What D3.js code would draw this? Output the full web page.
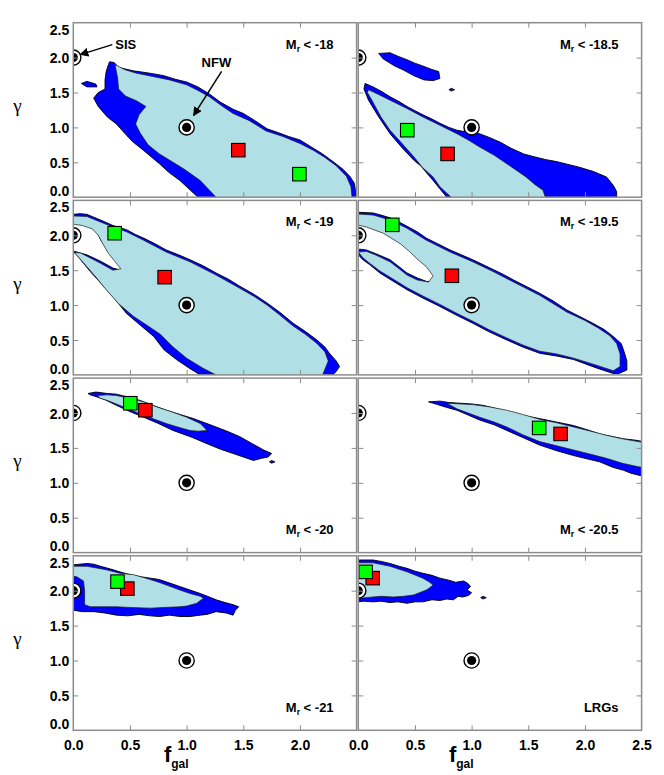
<!DOCTYPE html>
<html><head><meta charset="utf-8">
<script src="https://cdn.jsdelivr.net/npm/d3@7"></script>
<style>body{margin:0;background:#fff}</style>
</head><body>
<script>
// ---------------- DATA ----------------
const panelLabels = ["-18", "-18.5", "-19", "-19.5", "-20", "-20.5", "-21", "LRGs"];
const labelAtTop = [true, true, true, true, false, false, false, false];
const xTickValues = [0, 0.5, 1, 1.5, 2, 2.5];
const yTickValues = [0, 0.5, 1, 1.5, 2, 2.5];
const innerTickValues = [0.5, 1, 1.5, 2];
const refPoints = [{name: "SIS", f: 0, g: 2}, {name: "NFW", f: 1, g: 1}];
// best fits (f_gal, gamma) per panel
const redFit = [[1.456, 0.674], [0.788, 0.62], [0.806, 1.40], [0.826, 1.42], [0.636, 2.04], [1.785, 1.70], [0.477, 2.03], [0.127, 2.18]];
const greenFit = [[1.995, 0.33], [0.432, 0.96], [0.365, 2.03], [0.30, 2.15], [0.503, 2.14], [1.596, 1.786], [0.39, 2.13], [0.065, 2.27]];

// outer (2-sigma, blue) contours per panel, [f_gal, gamma]
const outerContours = [
  [[0.32,1.94],[0.36,1.93],[0.40,1.86],[0.45,1.84],[0.53,1.81],[0.62,1.79],[0.70,1.77],[0.80,1.74],[0.90,1.69],[1.00,1.65],[1.10,1.58],[1.20,1.48],[1.30,1.36],[1.41,1.26],[1.50,1.20],[1.60,1.10],[1.71,0.98],[1.80,0.93],[1.90,0.87],[2.00,0.82],[2.10,0.72],[2.20,0.62],[2.30,0.50],[2.38,0.40],[2.44,0.30],[2.48,0.20],[2.49,0.10],[2.50,0.0],[2.5,-0.1],[1.10,-0.1],[1.10,0],[0.94,0.24],[0.84,0.36],[0.76,0.48],[0.62,0.67],[0.52,0.80],[0.44,0.94],[0.38,1.05],[0.30,1.15],[0.22,1.30],[0.18,1.42],[0.22,1.50],[0.28,1.55],[0.28,1.68],[0.29,1.80],[0.31,1.90]],
  [[0.06,1.63],[0.13,1.58],[0.20,1.52],[0.28,1.44],[0.36,1.37],[0.43,1.30],[0.50,1.24],[0.57,1.18],[0.65,1.12],[0.72,1.06],[0.80,1.00],[0.87,0.96],[0.97,0.93],[1.07,0.91],[1.15,0.86],[1.25,0.79],[1.35,0.70],[1.46,0.62],[1.55,0.58],[1.65,0.54],[1.75,0.51],[1.85,0.47],[1.95,0.43],[2.07,0.37],[2.19,0.29],[2.25,0.17],[2.28,0.08],[2.28,0],[2.28,-0.1],[0.78,-0.1],[0.78,0],[0.66,0.24],[0.55,0.45],[0.49,0.53],[0.38,0.72],[0.28,0.91],[0.18,1.15],[0.09,1.39],[0.05,1.55]],
  [[-0.05,2.30],[0,2.30],[0.06,2.31],[0.12,2.30],[0.18,2.26],[0.24,2.22],[0.35,2.14],[0.47,2.08],[0.55,2.01],[0.62,1.96],[0.72,1.88],[0.82,1.79],[0.93,1.72],[1.03,1.65],[1.15,1.56],[1.26,1.46],[1.37,1.37],[1.47,1.27],[1.60,1.15],[1.71,1.03],[1.82,0.90],[1.94,0.74],[2.05,0.62],[2.15,0.50],[2.22,0.40],[2.26,0.31],[2.32,0.20],[2.35,0.12],[2.32,0.05],[2.29,0],[2.29,-0.1],[1.12,-0.1],[1.12,0],[1.02,0.10],[0.91,0.22],[0.80,0.36],[0.71,0.55],[0.60,0.70],[0.47,0.88],[0.36,1.10],[0.24,1.32],[0.15,1.48],[0.09,1.60],[0.03,1.72],[0,1.77],[0.01,1.77],[0.12,1.72],[0.24,1.63],[0.35,1.53],[0.49,1.47],[0.41,1.58],[0.35,1.70],[0.29,1.82],[0.24,1.94],[0.21,2.06],[0.15,2.13],[0.06,2.17],[0,2.18],[-0.05,2.18]],
  [[-0.05,2.33],[0,2.33],[0.13,2.32],[0.20,2.29],[0.28,2.25],[0.36,2.19],[0.43,2.13],[0.52,2.05],[0.60,1.96],[0.70,1.88],[0.81,1.79],[0.91,1.72],[1.01,1.65],[1.10,1.58],[1.19,1.51],[1.28,1.44],[1.37,1.36],[1.48,1.27],[1.60,1.17],[1.72,1.06],[1.84,0.93],[1.95,0.84],[2.07,0.74],[2.17,0.65],[2.25,0.55],[2.32,0.45],[2.34,0.36],[2.37,0.20],[2.37,0.07],[2.30,0.02],[2.25,0.02],[2.10,0.10],[1.90,0.22],[1.75,0.27],[1.60,0.31],[1.45,0.40],[1.31,0.50],[1.15,0.62],[1.01,0.74],[0.86,0.86],[0.72,0.98],[0.57,1.10],[0.43,1.22],[0.30,1.35],[0.19,1.46],[0.10,1.58],[0.04,1.65],[0,1.72],[-0.05,1.80],[0.02,1.80],[0.07,1.79],[0.15,1.74],[0.28,1.65],[0.36,1.55],[0.43,1.46],[0.52,1.39],[0.60,1.34],[0.72,1.32],[0.72,1.51],[0.60,1.58],[0.49,1.77],[0.37,1.91],[0.22,2.06],[0.07,2.15],[0,2.18],[-0.05,2.18]],
  [[0.13,2.28],[0.20,2.30],[0.30,2.28],[0.38,2.27],[0.48,2.23],[0.59,2.18],[0.70,2.11],[0.82,2.04],[0.94,1.98],[1.06,1.92],[1.16,1.86],[1.26,1.80],[1.37,1.73],[1.47,1.66],[1.58,1.56],[1.68,1.47],[1.75,1.42],[1.72,1.37],[1.66,1.35],[1.59,1.32],[1.50,1.37],[1.41,1.42],[1.30,1.48],[1.18,1.56],[1.05,1.65],[0.88,1.75],[0.75,1.85],[0.62,1.94],[0.50,2.02],[0.38,2.11],[0.28,2.19],[0.21,2.23],[0.15,2.26]],
  [[0.62,2.16],[0.72,2.17],[0.80,2.15],[0.90,2.14],[1.00,2.13],[1.10,2.11],[1.25,2.05],[1.37,1.99],[1.50,1.95],[1.60,1.92],[1.75,1.87],[1.90,1.82],[2.02,1.76],[2.13,1.70],[2.25,1.66],[2.34,1.63],[2.45,1.61],[2.55,1.58],[2.55,1.08],[2.47,1.11],[2.40,1.14],[2.34,1.18],[2.25,1.22],[2.13,1.30],[2.00,1.35],[1.90,1.39],[1.75,1.46],[1.60,1.54],[1.45,1.65],[1.31,1.75],[1.20,1.83],[1.07,1.90],[0.97,1.97],[0.87,2.04],[0.78,2.08],[0.70,2.12]],
  [[-0.05,2.37],[0,2.37],[0.12,2.39],[0.18,2.38],[0.24,2.35],[0.33,2.31],[0.41,2.27],[0.50,2.23],[0.59,2.20],[0.68,2.18],[0.76,2.16],[0.85,2.11],[0.94,2.06],[1.03,2.01],[1.12,1.96],[1.20,1.91],[1.26,1.87],[1.34,1.83],[1.41,1.80],[1.46,1.77],[1.43,1.72],[1.41,1.65],[1.35,1.68],[1.26,1.70],[1.18,1.66],[1.12,1.65],[1.03,1.63],[0.94,1.63],[0.85,1.65],[0.76,1.63],[0.68,1.64],[0.58,1.66],[0.48,1.64],[0.38,1.65],[0.28,1.68],[0.18,1.70],[0.08,1.70],[0,1.72],[-0.05,1.72]],
  [[-0.05,2.44],[0,2.44],[0.13,2.44],[0.20,2.42],[0.28,2.39],[0.36,2.35],[0.43,2.32],[0.50,2.28],[0.57,2.25],[0.65,2.22],[0.72,2.18],[0.80,2.15],[0.86,2.12],[0.93,2.14],[0.97,2.10],[0.99,2.06],[0.96,2.01],[1.00,1.97],[0.97,1.93],[0.92,1.91],[0.88,1.92],[0.84,1.87],[0.78,1.88],[0.72,1.86],[0.65,1.87],[0.57,1.84],[0.50,1.84],[0.43,1.82],[0.35,1.84],[0.28,1.83],[0.20,1.85],[0.13,1.84],[0.05,1.85],[0,1.84],[-0.05,1.84]]
];

// inner (1-sigma, light blue) contours per panel
const innerContours = [
  [[0.37,1.90],[0.45,1.83],[0.55,1.78],[0.70,1.73],[0.85,1.68],[1.00,1.61],[1.10,1.53],[1.20,1.44],[1.30,1.32],[1.41,1.20],[1.55,1.10],[1.70,0.95],[1.85,0.87],[2.00,0.77],[2.12,0.67],[2.22,0.57],[2.32,0.45],[2.41,0.30],[2.45,0.15],[2.46,0.0],[2.46,-0.1],[1.26,-0.1],[1.26,0],[1.12,0.24],[0.98,0.40],[0.88,0.50],[0.76,0.62],[0.66,0.75],[0.59,0.92],[0.55,1.05],[0.58,1.18],[0.64,1.30],[0.56,1.38],[0.46,1.45],[0.40,1.55],[0.39,1.72],[0.37,1.88]],
  [[0.09,1.54],[0.18,1.47],[0.28,1.39],[0.43,1.27],[0.57,1.15],[0.72,1.03],[0.87,0.91],[0.97,0.82],[1.07,0.72],[1.20,0.60],[1.31,0.48],[1.40,0.38],[1.48,0.29],[1.56,0.18],[1.63,0.10],[1.65,0],[1.65,-0.1],[0.82,-0.1],[0.82,0],[0.72,0.15],[0.66,0.29],[0.57,0.42],[0.49,0.58],[0.38,0.78],[0.28,0.96],[0.20,1.15],[0.12,1.39],[0.08,1.50]],
  [[-0.05,2.28],[0.12,2.27],[0.24,2.19],[0.35,2.12],[0.47,2.05],[0.62,1.93],[0.82,1.76],[1.03,1.62],[1.26,1.43],[1.47,1.24],[1.60,1.12],[1.71,1.00],[1.82,0.86],[1.94,0.70],[2.05,0.58],[2.15,0.45],[2.22,0.33],[2.25,0.20],[2.22,0.08],[2.20,0],[2.20,-0.1],[1.26,-0.1],[1.26,0],[1.14,0.10],[1.00,0.24],[0.88,0.40],[0.77,0.58],[0.66,0.70],[0.53,0.84],[0.40,1.02],[0.29,1.22],[0.20,1.40],[0.12,1.55],[0.05,1.68],[0.01,1.75],[0.06,1.75],[0.12,1.70],[0.24,1.60],[0.35,1.50],[0.42,1.52],[0.37,1.62],[0.31,1.74],[0.26,1.88],[0.22,2.00],[0.17,2.09],[0.08,2.14],[0,2.16],[-0.05,2.16]],
  [[-0.05,2.31],[0.13,2.29],[0.28,2.22],[0.43,2.10],[0.60,1.93],[0.81,1.76],[1.01,1.62],[1.19,1.48],[1.37,1.33],[1.60,1.14],[1.84,0.90],[2.00,0.78],[2.12,0.67],[2.22,0.56],[2.28,0.45],[2.31,0.30],[2.31,0.12],[2.25,0.06],[2.10,0.14],[1.90,0.24],[1.75,0.30],[1.60,0.34],[1.45,0.43],[1.31,0.53],[1.15,0.65],[1.01,0.77],[0.86,0.89],[0.72,1.01],[0.57,1.13],[0.43,1.25],[0.30,1.38],[0.19,1.49],[0.10,1.60],[0.04,1.68],[0,1.76],[0.07,1.77],[0.15,1.72],[0.28,1.62],[0.36,1.52],[0.43,1.43],[0.52,1.36],[0.62,1.33],[0.66,1.42],[0.60,1.55],[0.52,1.66],[0.45,1.77],[0.37,1.88],[0.22,2.03],[0.07,2.12],[-0.05,2.16]],
  [[0.21,2.25],[0.30,2.26],[0.38,2.25],[0.50,2.21],[0.62,2.16],[0.75,2.08],[0.88,2.01],[1.00,1.94],[1.12,1.85],[1.18,1.75],[1.10,1.74],[1.03,1.75],[0.92,1.80],[0.82,1.85],[0.70,1.92],[0.59,1.99],[0.48,2.06],[0.38,2.13],[0.30,2.18],[0.24,2.21]],
  [[0.78,2.14],[0.90,2.13],[1.01,2.12],[1.15,2.09],[1.31,2.04],[1.45,1.98],[1.60,1.91],[1.75,1.86],[1.90,1.80],[2.05,1.74],[2.19,1.68],[2.33,1.63],[2.47,1.59],[2.55,1.57],[2.55,1.21],[2.47,1.23],[2.33,1.28],[2.19,1.35],[2.05,1.41],[1.90,1.47],[1.75,1.53],[1.60,1.59],[1.45,1.69],[1.31,1.80],[1.20,1.87],[1.07,1.94],[0.97,2.00],[0.87,2.06]],
  [[-0.05,2.35],[0.12,2.35],[0.29,2.30],[0.41,2.25],[0.53,2.23],[0.64,2.18],[0.74,2.13],[0.84,2.07],[0.94,2.01],[1.03,1.96],[1.12,1.92],[1.15,1.89],[1.12,1.86],[1.09,1.82],[1.00,1.78],[0.94,1.77],[0.80,1.76],[0.68,1.75],[0.50,1.76],[0.38,1.77],[0.25,1.77],[0.15,1.77],[0.10,1.80],[0.10,2.00],[0.09,2.14],[0.03,2.20],[-0.05,2.22]],
  [[-0.05,2.40],[0.13,2.40],[0.28,2.35],[0.43,2.27],[0.57,2.18],[0.63,2.12],[0.66,2.08],[0.62,2.03],[0.60,2.01],[0.49,1.94],[0.40,1.92],[0.31,1.91],[0.20,1.92],[0.13,1.91],[0,1.89],[-0.05,1.89]]
];

// detached blue islands per panel
const blueIslands = [
  [[[0.07,1.63],[0.12,1.66],[0.20,1.62],[0.21,1.58],[0.12,1.58]]],
  [[[0.18,2.06],[0.28,2.07],[0.35,2.02],[0.43,1.97],[0.50,1.92],[0.57,1.88],[0.65,1.83],[0.71,1.80],[0.72,1.70],[0.66,1.67],[0.58,1.68],[0.49,1.74],[0.40,1.82],[0.32,1.88],[0.22,1.98]],
   [[0.80,1.54],[0.82,1.56],[0.85,1.54],[0.82,1.52]]],
  [], [],
  [[[1.73,1.30],[1.75,1.32],[1.78,1.30],[1.75,1.28]]],
  [], [],
  [[[1.08,1.90],[1.10,1.92],[1.13,1.90],[1.10,1.88]]]
];

// ---------------- LAYOUT ----------------
const W = 664, H = 775;
const colX = [73.3, 358.3], panelW = 283.3;
const rowY = [22.7, 200.4, 378.1, 555.8], panelH = 174.5;
const lightBlue = "#b0e0e6", blue = "#0000ff", frameGray = "#8c8c8c";
const font = "'Liberation Sans', Arial, Helvetica, sans-serif";
const tickFont = 14;

const svg = d3.select("body").append("svg").attr("width", W).attr("height", H)
  .style("font-family", font);

const defs = svg.append("defs");
defs.append("marker").attr("id", "arrow").attr("viewBox", "0 0 10 10")
  .attr("refX", 9).attr("refY", 5).attr("markerWidth", 6).attr("markerHeight", 6)
  .attr("markerUnits", "strokeWidth").attr("orient", "auto")
  .append("path").attr("d", "M0,0 L10,5 L0,10 z").attr("fill", "#000");

panelLabels.forEach((lab, i) => {
  const col = i % 2, row = Math.floor(i / 2);
  const x0 = colX[col], y0 = rowY[row];
  const x = d3.scaleLinear().domain([0, 2.5]).range([x0, x0 + panelW]);
  const y = d3.scaleLinear().domain([0, 2.5]).range([y0 + panelH, y0]);
  const line = d3.line().x(d => x(d[0])).y(d => y(d[1])).curve(d3.curveLinearClosed);

  defs.append("clipPath").attr("id", "clip" + i)
    .append("rect").attr("x", x0).attr("y", y0).attr("width", panelW).attr("height", panelH);

  const g = svg.append("g");
  const plot = g.append("g").attr("clip-path", `url(#clip${i})`);

  plot.append("path").attr("d", line(outerContours[i]))
    .attr("fill", blue).attr("stroke", "#000").attr("stroke-width", 0.9).attr("stroke-linejoin", "round");
  blueIslands[i].forEach(p => plot.append("path").attr("d", line(p))
    .attr("fill", blue).attr("stroke", "#000").attr("stroke-width", 0.8));
  plot.append("path").attr("d", line(innerContours[i]))
    .attr("fill", lightBlue).attr("stroke", "#1a1a1a").attr("stroke-width", 0.7).attr("stroke-linejoin", "round");

  // reference models
  refPoints.forEach(p => {
    plot.append("circle").attr("cx", x(p.f)).attr("cy", y(p.g)).attr("r", 7.6)
      .attr("fill", "#fff").attr("stroke", "#000").attr("stroke-width", 1.4);
    plot.append("circle").attr("cx", x(p.f)).attr("cy", y(p.g)).attr("r", 4.6).attr("fill", "#000");
  });

  // best-fit squares
  const sq = 13.5;
  [[redFit[i], "#ff0000"], [greenFit[i], "#00ff00"]].forEach(([p, c]) => {
    plot.append("rect").attr("x", x(p[0]) - sq / 2).attr("y", y(p[1]) - sq / 2)
      .attr("width", sq).attr("height", sq).attr("fill", c).attr("stroke", "#000").attr("stroke-width", 1.1);
  });

  // inner ticks on all four sides
  const tickStyle = sel => { sel.select(".domain").remove(); sel.selectAll("line").attr("stroke", frameGray).attr("stroke-width", 1); };
  g.append("g").attr("transform", `translate(0,${y0 + panelH})`)
    .call(d3.axisBottom(x).tickValues(innerTickValues).tickSize(-5).tickFormat("")).call(tickStyle);
  g.append("g").attr("transform", `translate(0,${y0})`)
    .call(d3.axisTop(x).tickValues(innerTickValues).tickSize(-5).tickFormat("")).call(tickStyle);
  g.append("g").attr("transform", `translate(${x0},0)`)
    .call(d3.axisLeft(y).tickValues(innerTickValues).tickSize(-5).tickFormat("")).call(tickStyle);
  g.append("g").attr("transform", `translate(${x0 + panelW},0)`)
    .call(d3.axisRight(y).tickValues(innerTickValues).tickSize(-5).tickFormat("")).call(tickStyle);

  // frame
  g.append("rect").attr("x", x0).attr("y", y0).attr("width", panelW).attr("height", panelH)
    .attr("fill", "none").attr("stroke", frameGray).attr("stroke-width", 1.5);

  // y tick labels (left column); end labels sit inside the row so stacked rows do not collide
  if (col === 0) {
    const ya = g.append("g").attr("transform", `translate(${x0},0)`)
      .call(d3.axisLeft(y).tickValues(yTickValues).tickSize(0).tickPadding(4).tickFormat(d3.format(".1f")));
    ya.select(".domain").remove();
    ya.selectAll("text").attr("font-family", font).attr("font-size", tickFont).attr("font-weight", "bold").attr("fill", "#000")
      .attr("dy", d => d === 0 ? "-1.7px" : d === 2.5 ? "11.4px" : "0.36em");
    g.append("text").attr("x", 17.5).attr("y", y0 + panelH / 2 + 2)
      .attr("text-anchor", "middle").attr("font-family", "'Liberation Serif', 'DejaVu Serif', serif")
      .attr("font-size", 19).text("γ");
  }
  // x tick labels (bottom row)
  if (row === 3) {
    const xa = g.append("g").attr("transform", `translate(0,${y0 + panelH})`)
      .call(d3.axisBottom(x).tickValues(col === 0 ? xTickValues.slice(0, 5) : xTickValues)
        .tickSize(0).tickPadding(10).tickFormat(d3.format(".1f")));
    xa.select(".domain").remove();
    xa.selectAll("text").attr("font-family", font).attr("font-size", tickFont).attr("font-weight", "bold").attr("fill", "#000");
    const ft = g.append("text").attr("x", x(0.8)).attr("y", 762).attr("font-weight", "bold");
    ft.append("tspan").attr("font-size", 22).text("f");
    ft.append("tspan").attr("font-size", 12).attr("dy", 6).text("gal");
  }

  // panel label
  const ly = labelAtTop[i] ? y0 + 26 : y0 + panelH - 18.5;
  const t = g.append("text").attr("x", x0 + panelW - 23).attr("y", ly)
    .attr("text-anchor", "end").attr("font-size", 13).attr("font-weight", "bold");
  if (lab === "LRGs") {
    t.text("LRGs");
  } else {
    t.append("tspan").text("M");
    t.append("tspan").attr("font-size", 8.5).attr("dy", 3).text("r");
    t.append("tspan").attr("dy", -3).text(" < " + lab);
  }

  // annotations in first panel
  if (i === 0) {
    const sis = refPoints[0], nfw = refPoints[1];
    g.append("line").attr("x1", x(sis.f) + 39).attr("y1", y(sis.g) - 13)
      .attr("x2", x(sis.f) + 7).attr("y2", y(sis.g) - 3)
      .attr("stroke", "#000").attr("stroke-width", 1.5).attr("marker-end", "url(#arrow)");
    g.append("text").attr("x", x(sis.f) + 42).attr("y", y(sis.g) - 9)
      .attr("font-size", 13).attr("font-weight", "bold").text("SIS");
    g.append("line").attr("x1", x(nfw.f) + 35).attr("y1", y(nfw.g) - 56)
      .attr("x2", x(nfw.f) + 7).attr("y2", y(nfw.g) - 12)
      .attr("stroke", "#000").attr("stroke-width", 1.5).attr("marker-end", "url(#arrow)");
    g.append("text").attr("x", x(nfw.f) + 15).attr("y", y(nfw.g) - 60)
      .attr("font-size", 13).attr("font-weight", "bold").text("NFW");
  }
});
</script>
</body></html>
